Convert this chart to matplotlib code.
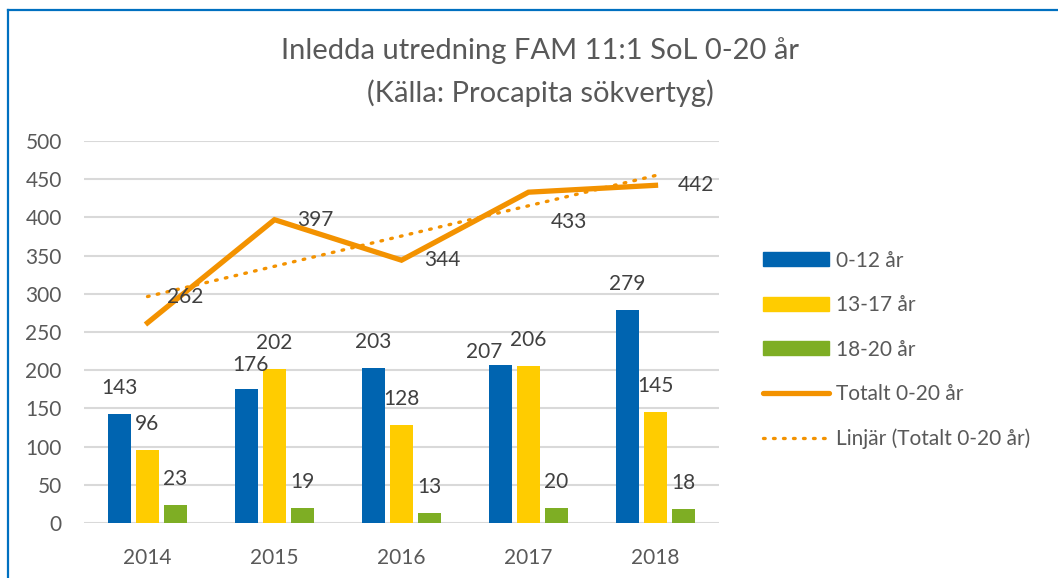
import numpy as np
import matplotlib.pyplot as plt
from matplotlib.patches import Patch
from matplotlib.lines import Line2D

# data
years = ['2014', '2015', '2016', '2017', '2018']
age_0_12 = [143, 176, 203, 207, 279]
age_13_17 = [96, 202, 128, 206, 145]
age_18_20 = [23, 19, 13, 20, 18]
total = [262, 397, 344, 433, 442]
series_names = ['0-12 år', '13-17 år', '18-20 år', 'Totalt 0-20 år', 'Linjär (Totalt 0-20 år)']

# colours
blue = '#0064B0'
yellow = '#FFCC00'
green = '#7EAE24'
orange = '#F39200'
txt = '#595959'
lbl = '#404040'
grid = '#D9D9D9'

plt.rcParams['font.family'] = ['Lato', 'DejaVu Sans']

fig = plt.figure(figsize=(10.58, 5.78), dpi=100)
ax = fig.add_axes([84/1058, 1-523/578, 635/1058, 382/578])

x = np.arange(len(years))
w = 0.18
off = 0.22
bars = [(age_0_12, blue, -off), (age_13_17, yellow, 0), (age_18_20, green, off)]
# label nudges (pixels), Excel moved a couple to avoid overlaps
nudge = {(0, 1): (4, 24), (0, 3): (-16, 13)}
for si, (vals, col, dx) in enumerate(bars):
    ax.bar(x + dx, vals, width=w, color=col, zorder=2)
    for xi, v in zip(x, vals):
        ox, oy = nudge.get((si, xi), (0, 26))
        ax.annotate(str(v), (xi + dx, v), xytext=(ox, oy), textcoords='offset pixels',
                    ha='center', va='center', fontsize=15, color=lbl)

# total line + linear trend
ax.plot(x, total, color=orange, lw=3.8, solid_joinstyle='miter', zorder=3)
k, m = np.polyfit(x, total, 1)
ax.plot(x, k*x + m, color=orange, lw=2.4, ls=(0, (0.5, 2.5)),
        dash_capstyle='round', zorder=3)

line_offsets = [(38, 26), (41, 0), (41, 0), (40, -30), (40, 0)]
for xi, v, (dx, dy) in zip(x, total, line_offsets):
    ax.annotate(str(v), (xi, v), xytext=(dx, dy), textcoords='offset pixels',
                ha='center', va='center', fontsize=15, color=lbl)

ax.set_xlim(-0.5, 4.5)
ax.set_ylim(0, 500)
ax.set_yticks(range(0, 501, 50))
ax.set_xticks(x)
ax.set_xticklabels(years)
ax.tick_params(length=0, labelsize=15, labelcolor=txt)
ax.tick_params(axis='y', pad=16)
ax.tick_params(axis='x', pad=18)
ax.grid(axis='y', color=grid, lw=1.5, zorder=0)
ax.set_axisbelow(True)
for s in ax.spines.values():
    s.set_visible(False)

fig.text(540/1058, 1-51/578, 'Inledda utredning FAM 11:1 SoL 0-20 år',
         ha='center', va='center', fontsize=21, color=txt)
fig.text(540/1058, 1-93/578, '(Källa: Procapita sökvertyg)',
         ha='center', va='center', fontsize=21, color=txt)

handles = [Patch(color=blue), Patch(color=yellow), Patch(color=green),
           Line2D([], [], color=orange, lw=3.8, solid_capstyle='round'),
           Line2D([], [], color=orange, lw=2.4, ls=(0, (0.5, 2.5)), dash_capstyle='round')]
leg = fig.legend(handles, series_names, loc='upper left', bbox_to_anchor=(744/1058, 1-232/578),
                 frameon=False, fontsize=15, labelcolor=txt, handlelength=3.2,
                 handleheight=0.65, handletextpad=0.3, labelspacing=1.17)

# frame on left and top edge
fig.add_artist(Line2D([8/1058, 8/1058], [0, 1-10/578], color='#0070C0', lw=1.6))
fig.add_artist(Line2D([8/1058, 1], [1-10/578, 1-10/578], color='#0070C0', lw=1.6))

fig.savefig('out.png', dpi=100)
